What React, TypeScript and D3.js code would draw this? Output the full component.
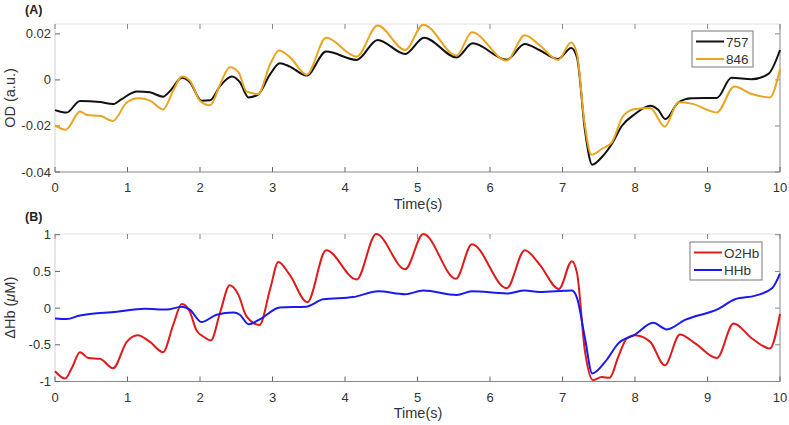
import React from "react";
import * as d3 from "d3";

// ---- Data ----
const xTicks = [0, 1, 2, 3, 4, 5, 6, 7, 8, 9, 10];
const odTicks = [-0.04, -0.02, 0, 0.02];
const odTickLabels = ["-0.04", "-0.02", "0", "0.02"];
const hbTicks = [-1, -0.5, 0, 0.5, 1];
const hbTickLabels = ["-1", "-0.5", "0", "0.5", "1"];

const t757 = [0, 0.16, 0.345, 0.62, 0.8, 0.92, 1.13, 1.31, 1.49, 1.59, 1.75, 1.86, 2.02, 2.14, 2.28, 2.44, 2.55, 2.67, 2.8, 2.97, 3.1, 3.24, 3.47, 3.74, 4.16, 4.45, 4.83, 5.09, 5.54, 5.76, 6.23, 6.48, 6.68, 6.94, 7.12, 7.2, 7.31, 7.41, 7.54, 7.68, 7.82, 8.0, 8.21, 8.32, 8.42, 8.6, 8.78, 9.13, 9.33, 9.61, 9.84, 10];
const od757 = [-0.0131, -0.0142, -0.0091, -0.0096, -0.0105, -0.0083, -0.005, -0.0054, -0.0073, -0.0047, 0.0009, -0.001, -0.009, -0.0088, -0.0025, 0.0015, -0.001, -0.0076, -0.0064, 0.0026, 0.0073, 0.0058, 0.0019, 0.0123, 0.0087, 0.0174, 0.0113, 0.0183, 0.0098, 0.0159, 0.0088, 0.0156, 0.013, 0.0091, 0.0139, 0.0098, -0.022, -0.0368, -0.0336, -0.0278, -0.0199, -0.0148, -0.0112, -0.013, -0.017, -0.0097, -0.008, -0.0078, 0.0009, 0.0003, 0.0026, 0.013];

const t846 = [0, 0.15, 0.345, 0.44, 0.62, 0.8, 0.99, 1.15, 1.31, 1.49, 1.63, 1.75, 1.86, 2.0, 2.14, 2.28, 2.41, 2.53, 2.64, 2.8, 2.97, 3.09, 3.24, 3.47, 3.74, 4.16, 4.45, 4.83, 5.08, 5.54, 5.75, 6.23, 6.48, 6.68, 6.94, 7.12, 7.2, 7.3, 7.4, 7.54, 7.68, 7.84, 8.0, 8.21, 8.41, 8.6, 8.78, 9.13, 9.37, 9.61, 9.86, 10];
const od846 = [-0.0197, -0.0216, -0.0137, -0.0152, -0.0156, -0.0178, -0.0098, -0.008, -0.009, -0.0128, -0.0047, 0.0015, -0.0003, -0.009, -0.011, -0.0018, 0.0055, 0.0034, -0.005, -0.0061, 0.007, 0.0128, 0.0099, 0.0023, 0.0183, 0.0101, 0.0236, 0.013, 0.024, 0.0106, 0.0207, 0.0084, 0.0194, 0.0152, 0.0087, 0.0163, 0.0113, -0.0177, -0.0325, -0.03, -0.0271, -0.0155, -0.0126, -0.0122, -0.0203, -0.0097, -0.0103, -0.0141, -0.0029, -0.0061, -0.0076, 0.0048];

const tO2Hb = [0, 0.14, 0.23, 0.345, 0.46, 0.62, 0.8, 0.99, 1.14, 1.31, 1.49, 1.63, 1.75, 1.86, 1.95, 2.05, 2.15, 2.28, 2.41, 2.53, 2.64, 2.82, 2.97, 3.08, 3.24, 3.48, 3.74, 4.16, 4.43, 4.83, 5.08, 5.53, 5.75, 6.23, 6.48, 6.68, 6.95, 7.13, 7.2, 7.31, 7.42, 7.54, 7.65, 7.77, 7.89, 8.0, 8.21, 8.41, 8.62, 8.83, 9.13, 9.36, 9.61, 9.86, 10];
const o2hb = [-0.86, -0.96, -0.82, -0.6, -0.68, -0.69, -0.82, -0.46, -0.37, -0.46, -0.6, -0.23, 0.055, -0.05, -0.3, -0.39, -0.44, -0.05, 0.31, 0.18, -0.11, -0.23, 0.27, 0.63, 0.45, 0.08, 0.79, 0.39, 1.01, 0.53, 1.01, 0.4, 0.87, 0.27, 0.79, 0.6, 0.26, 0.64, 0.48, -0.59, -0.98, -0.94, -0.95, -0.66, -0.41, -0.37, -0.46, -0.78, -0.36, -0.48, -0.68, -0.21, -0.41, -0.55, -0.08];

const tHHb = [0, 0.16, 0.345, 0.85, 1.24, 1.54, 1.75, 1.86, 2.02, 2.23, 2.46, 2.55, 2.67, 2.83, 3.1, 3.47, 3.7, 4.11, 4.46, 4.83, 5.08, 5.54, 5.75, 6.23, 6.48, 6.68, 7.13, 7.2, 7.31, 7.41, 7.59, 7.77, 8.0, 8.25, 8.44, 8.69, 9.15, 9.38, 9.66, 9.89, 10];
const hhb = [-0.14, -0.15, -0.1, -0.05, -0.01, -0.02, 0.02, -0.02, -0.19, -0.09, -0.06, -0.09, -0.22, -0.15, 0.01, 0.02, 0.12, 0.15, 0.23, 0.19, 0.24, 0.18, 0.23, 0.2, 0.24, 0.22, 0.24, 0.14, -0.41, -0.89, -0.73, -0.48, -0.36, -0.2, -0.29, -0.16, -0.01, 0.12, 0.17, 0.27, 0.47];

const W = 789;
const H = 425;
const FONT = "'Liberation Sans', Arial, sans-serif";

type Series = { t: number[]; v: number[]; color: string; name: string };

function Panel(props: {
  top: number;
  bottom: number;
  labelY: number;
  yDomain: [number, number];
  yTicks: number[];
  yTickLabels: string[];
  label: string;
  yLabel: React.ReactNode;
  series: Series[];
  legend: { x: number; y: number; w: number; h: number };
}) {
  const { top, bottom, labelY, yDomain, yTicks, yTickLabels, label, yLabel, series, legend } = props;
  const left = 55;
  const right = 780;
  const x = d3.scaleLinear().domain([0, 10]).range([left, right]);
  const y = d3.scaleLinear().domain(yDomain).range([bottom, top]);
  const tick = 5;
  const line = (s: Series) =>
    d3
      .line<number>()
      .x((_, i) => x(s.t[i]))
      .y((d) => y(d))
      .curve(d3.curveMonotoneX)(s.v) || "";

  return (
    <g>
      <text x={25} y={labelY} fontFamily={FONT} fontSize={12.5} fontWeight="bold" fill="#222">
        {label}
      </text>
      {/* box */}
      <line x1={left} x2={right} y1={top} y2={top} stroke="#e0e0e0" />
      <line x1={left} x2={left} y1={top} y2={bottom} stroke="#d0d0d0" />
      <line x1={right} x2={right} y1={top} y2={bottom} stroke="#888" />
      <line x1={left} x2={right} y1={bottom} y2={bottom} stroke="#888" />
      {/* x ticks */}
      {xTicks.map((t) => (
        <g key={"x" + t}>
          <line x1={x(t)} x2={x(t)} y1={bottom} y2={bottom - tick} stroke="#666" />
          <line x1={x(t)} x2={x(t)} y1={top} y2={top + tick} stroke="#888" />
          <text x={x(t)} y={bottom + 20} textAnchor="middle" fontFamily={FONT} fontSize={13} fill="#333">
            {t}
          </text>
        </g>
      ))}
      {/* y ticks */}
      {yTicks.map((v, i) => (
        <g key={"y" + v}>
          <line x1={left} x2={left + tick} y1={y(v)} y2={y(v)} stroke="#666" />
          <line x1={right} x2={right - tick} y1={y(v)} y2={y(v)} stroke="#888" />
          <text x={left - 4} y={y(v) + 4.5} textAnchor="end" fontFamily={FONT} fontSize={13} fill="#333">
            {yTickLabels[i]}
          </text>
        </g>
      ))}
      <text x={418} y={bottom + 36.5} textAnchor="middle" fontFamily={FONT} fontSize={14.5} fill="#333">
        Time(s)
      </text>
      <text
        transform={`translate(15, ${(top + bottom) / 2}) rotate(-90)`}
        textAnchor="middle"
        fontFamily={FONT}
        fontSize={14.5}
        fill="#333"
      >
        {yLabel}
      </text>
      {/* series */}
      {series.map((s) => (
        <path key={s.name} d={line(s)} fill="none" stroke={s.color} strokeWidth={2} strokeLinejoin="round" />
      ))}
      {/* legend */}
      <rect x={legend.x} y={legend.y} width={legend.w} height={legend.h} fill="white" stroke="#777" strokeWidth={1} />
      {series.map((s, i) => {
        const ly = legend.y + 10.5 + i * 17.5;
        return (
          <g key={"lg" + s.name}>
            <line x1={legend.x + 4} x2={legend.x + 32} y1={ly} y2={ly} stroke={s.color} strokeWidth={2} />
            <text x={legend.x + 34} y={ly + 5} fontFamily={FONT} fontSize={13.5} fill="#333">
              {s.name}
            </text>
          </g>
        );
      })}
    </g>
  );
}

export default function App() {
  return (
    <svg
      width={W}
      height={H}
      style={{ position: "absolute", left: 0, top: 0, background: "white" }}
    >
      <Panel
        top={24}
        bottom={172}
        labelY={14}
        yDomain={[-0.04, 0.0243]}
        yTicks={odTicks}
        yTickLabels={odTickLabels}
        label="(A)"
        yLabel="OD (a.u.)"
        series={[
          { t: t757, v: od757, color: "#111111", name: "757" },
          { t: t846, v: od846, color: "#E9A420", name: "846" },
        ]}
        legend={{ x: 692, y: 31, w: 61, h: 36 }}
      />
      <Panel
        top={234}
        bottom={381.5}
        labelY={221}
        yDomain={[-1, 1.01]}
        yTicks={hbTicks}
        yTickLabels={hbTickLabels}
        label="(B)"
        yLabel={
          <>
            ΔHb (<tspan fontStyle="italic">μ</tspan>M)
          </>
        }
        series={[
          { t: tO2Hb, v: o2hb, color: "#DE1A1A", name: "O2Hb" },
          { t: tHHb, v: hhb, color: "#1A1AF0", name: "HHb" },
        ]}
        legend={{ x: 690, y: 242, w: 72, h: 38 }}
      />
    </svg>
  );
}
